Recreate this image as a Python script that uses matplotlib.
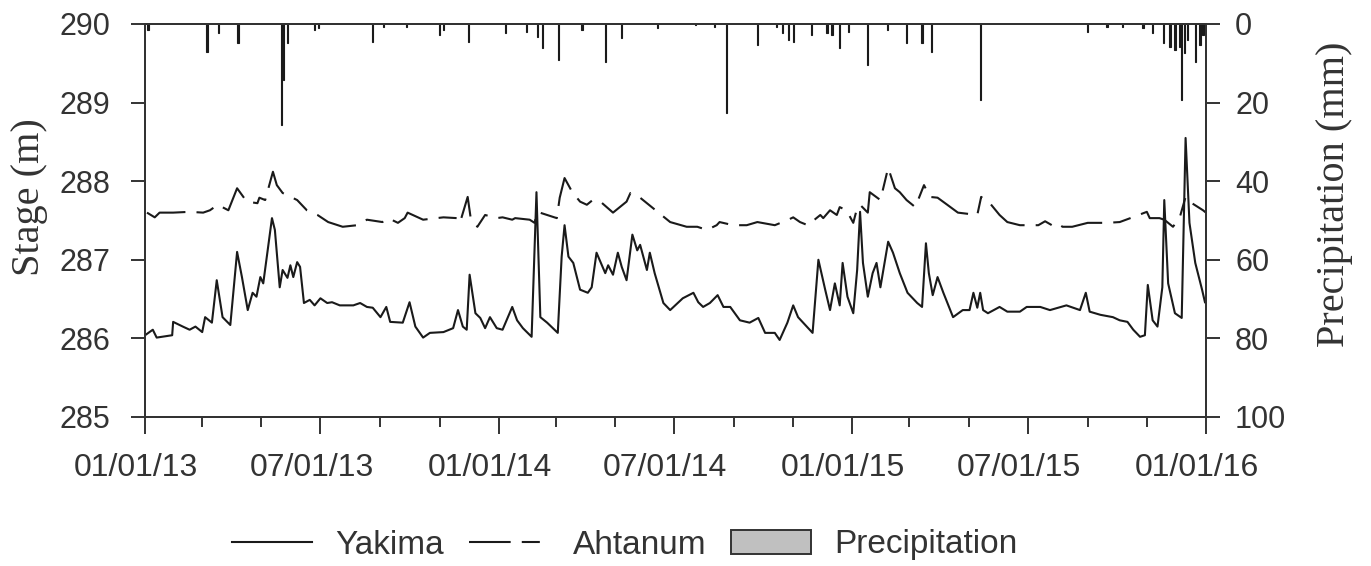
import datetime as dt
import matplotlib
matplotlib.use('Agg')
import matplotlib.pyplot as plt
import matplotlib.dates as mdates
from matplotlib.lines import Line2D
from matplotlib.patches import Patch
from matplotlib.transforms import ScaledTranslation

start = dt.date(2013, 1, 1)

# Yakima stage (m) -- days since 01/01/13
yakima_day = [0, 8, 12, 28, 29, 39, 46, 52, 59, 62,
              69, 74, 80, 88, 95, 100, 106, 111, 115, 119,
              122, 131, 134, 139, 142, 147, 150, 153, 157, 160,
              164, 170, 175, 181, 188, 193, 201, 215, 222, 229,
              235, 243, 249, 253, 266, 273, 279, 287, 294, 308,
              318, 323, 328, 332, 335, 341, 346, 351, 356, 363,
              369, 379, 384, 390, 399, 404, 408, 415, 426, 430,
              433, 437, 442, 449, 457, 461, 466, 475, 478, 483,
              488, 492, 497, 503, 508, 511, 518, 521, 526, 535,
              542, 555, 566, 571, 576, 583, 591, 597, 604, 614,
              624, 633, 640, 650, 655, 663, 669, 674, 683, 689,
              695, 702, 707, 712, 717, 720, 725, 731, 735, 738,
              741, 746, 751, 755, 759, 767, 772, 779, 787, 797,
              802, 806, 809, 813, 818, 824, 834, 844, 851, 855,
              859, 862, 865, 870, 882, 890, 903, 910, 924, 934,
              951, 965, 971, 975, 986, 999, 1006, 1014, 1020, 1027,
              1032, 1035, 1040, 1045, 1050, 1052, 1056, 1063, 1070, 1074,
              1078, 1084, 1091, 1094]
yakima_stage = [286.04, 286.11, 286.01, 286.04, 286.21, 286.15, 286.11, 286.15, 286.08, 286.27,
                286.20, 286.74, 286.27, 286.17, 287.10, 286.78, 286.36, 286.58, 286.53, 286.78,
                286.70, 287.53, 287.38, 286.65, 286.87, 286.77, 286.93, 286.78, 286.97, 286.91,
                286.45, 286.49, 286.42, 286.51, 286.45, 286.46, 286.42, 286.42, 286.45, 286.40,
                286.39, 286.27, 286.40, 286.21, 286.20, 286.46, 286.15, 286.01, 286.07, 286.08,
                286.13, 286.36, 286.15, 286.11, 286.81, 286.32, 286.26, 286.13, 286.27, 286.13,
                286.11, 286.40, 286.23, 286.13, 286.02, 287.86, 286.27, 286.20, 286.07, 287.04,
                287.44, 287.04, 286.96, 286.62, 286.58, 286.65, 287.09, 286.83, 286.93, 286.81,
                287.09, 286.91, 286.74, 287.32, 287.12, 287.19, 286.87, 287.09, 286.83, 286.45,
                286.36, 286.51, 286.58, 286.46, 286.40, 286.45, 286.55, 286.40, 286.40, 286.23,
                286.20, 286.26, 286.07, 286.07, 285.98, 286.20, 286.42, 286.27, 286.15, 286.07,
                287.00, 286.62, 286.36, 286.70, 286.42, 286.96, 286.53, 286.32, 286.87, 287.61,
                286.96, 286.53, 286.83, 286.96, 286.65, 287.23, 287.09, 286.83, 286.58, 286.45,
                286.40, 287.21, 286.83, 286.55, 286.78, 286.58, 286.27, 286.36, 286.36, 286.58,
                286.39, 286.58, 286.36, 286.32, 286.40, 286.34, 286.34, 286.40, 286.40, 286.36,
                286.42, 286.36, 286.58, 286.34, 286.30, 286.27, 286.23, 286.21, 286.11, 286.02,
                286.04, 286.68, 286.23, 286.15, 286.65, 287.76, 286.70, 286.32, 286.26, 288.55,
                287.47, 286.96, 286.62, 286.46]

# Ahtanum stage (m)
ahtanum_day = [2, 10, 15, 29, 46, 60, 67, 75, 86, 95,
               105, 116, 118, 124, 132, 136, 142, 157, 167, 178,
               189, 204, 219, 229, 245, 251, 261, 268, 271, 287,
               308, 322, 325, 333, 336, 343, 351, 363, 369, 379,
               382, 397, 402, 405, 415, 425, 428, 433, 441, 449,
               456, 462, 470, 483, 490, 497, 501, 511, 524, 539,
               542, 559, 570, 580, 590, 593, 607, 621, 632, 650,
               664, 669, 676, 684, 697, 700, 707, 714, 717, 724,
               731, 735, 738, 746, 748, 759, 767, 774, 779, 786,
               795, 804, 810, 818, 828, 839, 859, 863, 872, 882,
               890, 903, 922, 929, 936, 941, 947, 957, 973, 993,
               1006, 1017, 1034, 1037, 1047, 1052, 1061, 1068, 1074, 1078,
               1092, 1095]
ahtanum_stage = [287.60, 287.54, 287.60, 287.60, 287.61, 287.60, 287.63, 287.70, 287.63, 287.91,
                 287.74, 287.72, 287.79, 287.76, 288.12, 287.95, 287.85, 287.76, 287.63, 287.57,
                 287.48, 287.42, 287.44, 287.51, 287.48, 287.53, 287.47, 287.53, 287.60, 287.51,
                 287.54, 287.53, 287.47, 287.80, 287.54, 287.42, 287.57, 287.53, 287.54, 287.51,
                 287.53, 287.51, 287.47, 287.61, 287.57, 287.53, 287.79, 288.04, 287.86, 287.74,
                 287.70, 287.76, 287.74, 287.60, 287.67, 287.74, 287.85, 287.79, 287.66, 287.51,
                 287.48, 287.42, 287.42, 287.38, 287.44, 287.48, 287.44, 287.44, 287.48, 287.44,
                 287.51, 287.54, 287.48, 287.44, 287.57, 287.53, 287.63, 287.57, 287.67, 287.63,
                 287.47, 287.66, 287.70, 287.60, 287.86, 287.76, 288.17, 287.91, 287.86, 287.76,
                 287.67, 287.95, 287.80, 287.79, 287.70, 287.60, 287.57, 287.80, 287.72, 287.57,
                 287.48, 287.44, 287.44, 287.49, 287.44, 287.47, 287.42, 287.42, 287.47, 287.47,
                 287.48, 287.53, 287.61, 287.53, 287.53, 287.51, 287.42, 287.54, 287.80, 287.74,
                 287.63, 287.60]

# daily precipitation (mm)
precip_day = [3, 64, 76, 96, 141, 143, 147, 175, 179, 235,
              246, 270, 304, 308, 334, 372, 394, 405, 410, 427,
              451, 475, 492, 529, 568, 588, 600, 632, 652, 658,
              664, 669, 688, 704, 709, 717, 726, 746, 766, 786,
              802, 812, 862, 973, 993, 1009, 1030, 1040, 1051, 1058,
              1063, 1068, 1070, 1073, 1076, 1084, 1089, 1092]
precip_mm = [1.5, 7.1, 2.3, 4.8, 25.6, 14.2, 4.8, 1.5, 1.0, 4.6,
             0.8, 0.8, 2.8, 1.5, 4.6, 2.3, 2.0, 3.3, 6.1, 9.2,
             1.5, 9.7, 3.6, 1.0, 0.3, 0.8, 22.6, 5.3, 0.8, 2.3,
             4.1, 4.6, 2.8, 2.3, 2.8, 6.1, 2.0, 10.4, 1.5, 4.8,
             4.8, 7.1, 19.3, 2.0, 0.8, 0.8, 1.0, 2.3, 4.8, 5.9,
             6.6, 5.9, 19.3, 7.4, 4.1, 9.7, 5.3, 2.8]

def to_dates(days):
    return [start + dt.timedelta(days=d) for d in days]

sans = 'Liberation Sans'
serif = 'Liberation Serif'
plt.rcParams['font.family'] = sans
plt.rcParams['lines.scale_dashes'] = False
ink = '#1a1a1a'
grey = '#333333'
dash = (0, (30, 8, 13, 8))

fig = plt.figure(figsize=(13.71, 5.66), dpi=100)
ax = fig.add_axes([0.1058, 0.2633, 0.7738, 0.6943])
ax2 = ax.twinx()

ax.plot(to_dates(yakima_day), yakima_stage, color=ink, lw=1.5)
ax.plot(to_dates(ahtanum_day), ahtanum_stage, color=ink, lw=1.5, linestyle=dash)
ax2.bar(to_dates(precip_day), precip_mm, width=1.3, color=ink, edgecolor=ink, linewidth=0.8)

ax.set_xlim(dt.date(2013, 1, 1), dt.date(2016, 1, 1))
ax.set_ylim(285, 290)
ax.set_yticks([285, 286, 287, 288, 289, 290])
ax2.set_ylim(100, 0)
ax2.set_yticks([0, 20, 40, 60, 80, 100])

ax.xaxis.set_major_locator(mdates.MonthLocator(bymonth=[1, 7]))
ax.xaxis.set_minor_locator(mdates.MonthLocator(bymonth=[1, 3, 5, 7, 9, 11]))
ax.xaxis.set_major_formatter(mdates.DateFormatter('%m/%d/%y'))

for a in (ax, ax2):
    for s in a.spines.values():
        s.set_linewidth(1.4)
        s.set_color(grey)
    a.tick_params(axis='both', which='major', labelsize=22, length=10, width=1.4,
                  color=grey, labelcolor=grey)
    a.tick_params(axis='x', which='minor', length=7, width=1.4, color=grey)
ax.tick_params(axis='y', pad=15)
ax2.tick_params(axis='y', pad=11)
ax.tick_params(axis='x', which='major', length=12, pad=14, labelsize=23)

# date labels sit a little left of their ticks in the original
shift = ScaledTranslation(-9 / 100, 0, fig.dpi_scale_trans)
for lab in ax.get_xticklabels():
    lab.set_transform(lab.get_transform() + shift)

ax.set_ylabel('Stage (m)', family=serif, fontsize=29, color=grey)
ax.yaxis.set_label_coords(-0.0914, 0.56)
ax2.set_ylabel('Precipitation (mm)', family=serif, fontsize=29, color=grey, rotation=90)
ax2.yaxis.set_label_coords(1.1037, 0.567)

handles = [Line2D([], [], color=ink, lw=1.5),
           Line2D([], [], color=ink, lw=1.5, linestyle=dash),
           Patch(facecolor='#c0c0c0', edgecolor=grey, linewidth=1.4)]
fig.legend(handles, ['Yakima', 'Ahtanum', 'Precipitation'], loc='center',
           bbox_to_anchor=(625 / 1371, 1 - 545 / 566), ncol=3, frameon=False,
           fontsize=24, handlelength=2.4, handletextpad=0.7, columnspacing=0.75,
           labelcolor=grey)

fig.savefig('out.png', dpi=100)
